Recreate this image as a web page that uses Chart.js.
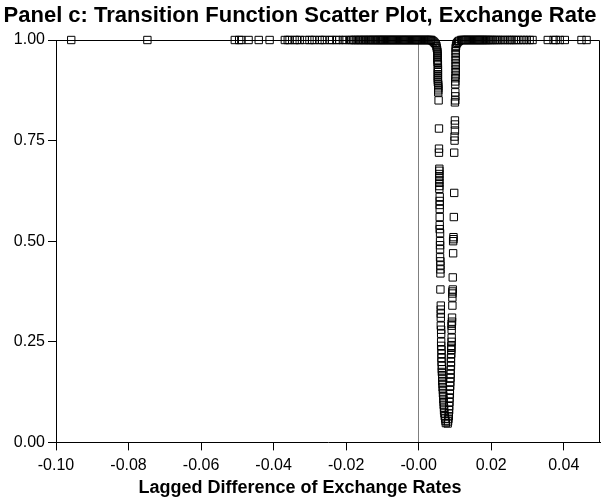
<!DOCTYPE html>
<html>
<head>
<meta charset="utf-8">
<script src="https://cdn.jsdelivr.net/npm/chart.js@4/dist/chart.umd.min.js"></script>
<style>
  html, body { margin: 0; padding: 0; background: #fff; }
  #wrap { width: 601px; height: 500px; }
</style>
</head>
<body>
<div id="wrap"><canvas id="scatterChart" width="601" height="500"></canvas></div>
<script>
// points sitting on the upper regime (G = 1)
const flatX = [
  -0.0958, -0.0748, -0.0507, -0.0495, -0.0489, -0.0469, -0.0441, -0.0411,
  -0.0369, -0.0361, -0.0356, -0.0342, -0.0336, -0.0328, -0.0314, -0.0301,
  -0.0294, -0.0287, -0.0273, -0.0266, -0.0259, -0.0245, -0.0239, -0.0227,
  -0.0219, -0.0209, -0.0202, -0.0191, -0.0186, -0.0181, -0.0177, -0.0173,
  -0.0168, -0.0164, -0.0160, -0.0157, -0.0152, -0.0149, -0.0145, -0.0141,
  -0.0138, -0.0134, -0.0131, -0.0127, -0.0124, -0.0121, -0.0118, -0.0114,
  -0.0111, -0.0108, -0.0105, -0.0102, -0.0099, -0.0096, -0.0093, -0.0090,
  -0.0087, -0.0084, -0.0081, -0.0078, -0.0075, -0.0072, -0.0069, -0.0066,
  -0.0063, -0.0060, -0.0057, -0.0054, -0.0051, -0.0048, -0.0045, -0.0042,
  -0.0039, -0.0036, -0.0033, -0.0030, -0.0027, -0.0024, -0.0021, -0.0018,
  -0.0015, -0.0012, -0.0009, -0.0006, -0.0003, 0.0000, 0.0003, 0.0006,
  0.0009, 0.0012, 0.0015, 0.0018, 0.0021, 0.0024, 0.0027, 0.0030, 0.0033,
  0.0035,
  0.0117, 0.0120, 0.0123, 0.0126, 0.0129, 0.0132, 0.0135, 0.0138, 0.0141,
  0.0144, 0.0147, 0.0150, 0.0153, 0.0156, 0.0159, 0.0162, 0.0165, 0.0168,
  0.0171, 0.0174, 0.0177, 0.0180, 0.0183, 0.0186, 0.0189, 0.0193, 0.0197,
  0.0201, 0.0205, 0.0210, 0.0215, 0.0220, 0.0226, 0.0232, 0.0238, 0.0245,
  0.0251, 0.0256, 0.0262, 0.0268, 0.0275, 0.0283, 0.0290, 0.0298, 0.0306,
  0.0314, 0.0356, 0.0372, 0.0378, 0.0389, 0.0403, 0.0449, 0.0463
];

// left arm of the dip
const leftX = [
  0.0038, 0.0041, 0.0044, 0.0047, 0.0049, 0.0050, 0.0051, 0.0052, 0.0052,
  0.0052, 0.0052, 0.0052, 0.0052, 0.0053, 0.0053, 0.0053, 0.0053, 0.0053,
  0.0053, 0.0053, 0.0053, 0.0053, 0.0054, 0.0054, 0.0054, 0.0054, 0.0054,
  0.0055, 0.0056, 0.0056, 0.0056, 0.0057, 0.0057, 0.0057, 0.0057, 0.0057,
  0.0057, 0.0057, 0.0057, 0.0058, 0.0058, 0.0058, 0.0058, 0.0058, 0.0058,
  0.0058, 0.0059, 0.0059, 0.0059, 0.0059, 0.0059, 0.0060, 0.0060, 0.0060,
  0.0060, 0.0060, 0.0061, 0.0061, 0.0061, 0.0061, 0.0061, 0.0062, 0.0062,
  0.0062, 0.0062, 0.0063, 0.0063, 0.0063, 0.0063, 0.0064, 0.0064, 0.0064,
  0.0065, 0.0065, 0.0065, 0.0066, 0.0066, 0.0067, 0.0067, 0.0068, 0.0068,
  0.0069, 0.0069, 0.0070, 0.0070, 0.0071, 0.0072, 0.0073, 0.0074, 0.0075
];
const leftY = [
  0.998, 0.996, 0.993, 0.990, 0.985, 0.980, 0.975, 0.970, 0.965,
  0.960, 0.955, 0.950, 0.945, 0.940, 0.930, 0.925, 0.920, 0.915,
  0.910, 0.905, 0.900, 0.895, 0.890, 0.885, 0.880, 0.875, 0.870,
  0.850, 0.780, 0.730, 0.720, 0.680, 0.675, 0.667, 0.660, 0.652,
  0.645, 0.637, 0.630, 0.610, 0.600, 0.590, 0.580, 0.560, 0.540,
  0.530, 0.520, 0.500, 0.490, 0.480, 0.460, 0.450, 0.440, 0.430,
  0.420, 0.380, 0.340, 0.330, 0.320, 0.310, 0.290, 0.280, 0.270,
  0.250, 0.240, 0.230, 0.220, 0.210, 0.200, 0.190, 0.182, 0.175,
  0.167, 0.160, 0.152, 0.145, 0.137, 0.130, 0.122, 0.115, 0.107,
  0.100, 0.093, 0.086, 0.079, 0.072, 0.065, 0.059, 0.053, 0.048
];

// right arm of the dip
const rightX = [
  0.0112, 0.0109, 0.0106, 0.0104, 0.0103, 0.0102, 0.0102, 0.0102, 0.0102,
  0.0102, 0.0102, 0.0102, 0.0102, 0.0102, 0.0102, 0.0101, 0.0101, 0.0101,
  0.0101, 0.0101, 0.0101, 0.0100, 0.0100, 0.0100, 0.0100, 0.0099, 0.0099,
  0.0098, 0.0098, 0.0097, 0.0096, 0.0096, 0.0095, 0.0095, 0.0094, 0.0094,
  0.0093, 0.0093, 0.0093, 0.0093, 0.0092, 0.0092, 0.0091, 0.0091, 0.0091,
  0.0091, 0.0091, 0.0090, 0.0090, 0.0090, 0.0090, 0.0089, 0.0089, 0.0089,
  0.0088, 0.0088, 0.0088, 0.0087, 0.0087, 0.0086, 0.0086, 0.0085, 0.0085,
  0.0084, 0.0084, 0.0083, 0.0083, 0.0082, 0.0081, 0.0080
];
const rightY = [
  0.998, 0.996, 0.993, 0.990, 0.985, 0.980, 0.972, 0.965, 0.957,
  0.950, 0.942, 0.935, 0.927, 0.920, 0.912, 0.905, 0.897, 0.890,
  0.870, 0.860, 0.850, 0.845, 0.800, 0.790, 0.775, 0.760, 0.750,
  0.720, 0.620, 0.560, 0.510, 0.505, 0.500, 0.470, 0.410, 0.380,
  0.375, 0.370, 0.360, 0.340, 0.310, 0.300, 0.295, 0.290, 0.280,
  0.260, 0.250, 0.240, 0.235, 0.230, 0.220, 0.210, 0.200, 0.190,
  0.180, 0.170, 0.160, 0.150, 0.140, 0.130, 0.120, 0.110, 0.100,
  0.090, 0.080, 0.072, 0.065, 0.058, 0.052, 0.047
];

const xTickValues = [-0.10, -0.08, -0.06, -0.04, -0.02, 0, 0.02, 0.04];
const xTickLabels = ['-0.10', '-0.08', '-0.06', '-0.04', '-0.02', '-0.00', '0.02', '0.04'];
const yTickValues = [0, 0.25, 0.5, 0.75, 1];
const yTickLabels = ['0.00', '0.25', '0.50', '0.75', '1.00'];

const points = []
  .concat(flatX.map(x => ({ x: x, y: 1 })))
  .concat(leftX.map((x, i) => ({ x: x, y: leftY[i] })))
  .concat(rightX.map((x, i) => ({ x: x, y: rightY[i] })));

const FONT = "'Liberation Sans', Arial, Helvetica, sans-serif";

// outline round the plot area (top and right sides)
const frame = {
  id: 'frame',
  beforeDatasetsDraw(chart) {
    const a = chart.chartArea;
    const c = chart.ctx;
    c.save();
    c.strokeStyle = '#000';
    c.lineWidth = 1;
    c.beginPath();
    c.moveTo(a.left, a.top + 0.5);
    c.lineTo(a.right - 0.5, a.top + 0.5);
    c.lineTo(a.right - 0.5, a.bottom);
    c.stroke();
    c.restore();
  }
};

const ctx = document.getElementById('scatterChart').getContext('2d');
const scatterChart = new Chart(ctx, {
  type: 'scatter',
  data: {
    datasets: [{
      label: 'G',
      data: points,
      pointStyle: 'rect',
      pointRadius: 5.2,
      pointBorderWidth: 1,
      pointBorderColor: '#000',
      pointBackgroundColor: 'rgba(0,0,0,0)',
      clip: false,
    }]
  },
  options: {
    responsive: false,
    animation: false,
    layout: { autoPadding: false, padding: { left: 0, right: 1, top: 0, bottom: 0 } },
    plugins: {
      legend: { display: false },
      tooltip: { enabled: false },
      title: {
        display: true,
        text: 'Panel c: Transition Function Scatter Plot, Exchange Rate',
        color: '#000',
        font: { family: FONT, size: 22, weight: 'bold' },
        padding: { top: 2.8, bottom: 10.8 },
      },
      subtitle: {
        display: true,
        position: 'bottom',
        text: 'Lagged Difference of Exchange Rates',
        color: '#000',
        font: { family: FONT, size: 18, weight: 'bold' },
        padding: { top: 0, bottom: 1 },
      },
    },
    scales: {
      x: {
        type: 'linear',
        min: -0.10,
        max: 0.05,
        afterBuildTicks: (scale) => {
          scale.ticks = xTickValues.map(v => ({ value: v }));
        },
        afterFit: (scale) => { scale.height = 35; },
        border: { display: true, color: '#000', width: 1 },
        grid: {
          color: (c) => (c.tick && c.tick.value === 0 ? '#7f7f7f' : 'rgba(0,0,0,0)'),
          tickColor: '#000',
          tickLength: 8,
          drawOnChartArea: true,
        },
        ticks: {
          color: '#000',
          font: { family: FONT, size: 16 },
          padding: 6,
          maxRotation: 0,
          autoSkip: false,
          callback: (v, i) => xTickLabels[i],
        },
      },
      y: {
        type: 'linear',
        min: 0,
        max: 1,
        afterBuildTicks: (scale) => {
          scale.ticks = yTickValues.map(v => ({ value: v }));
        },
        afterFit: (scale) => { scale.width = 56; },
        border: { display: true, color: '#000', width: 1 },
        grid: {
          drawOnChartArea: false,
          tickColor: '#000',
          tickLength: 8,
        },
        ticks: {
          color: '#000',
          font: { family: FONT, size: 16 },
          padding: 3,
          autoSkip: false,
          callback: (v, i) => yTickLabels[i],
        },
      },
    },
  },
  plugins: [frame],
});
</script>
</body>
</html>
